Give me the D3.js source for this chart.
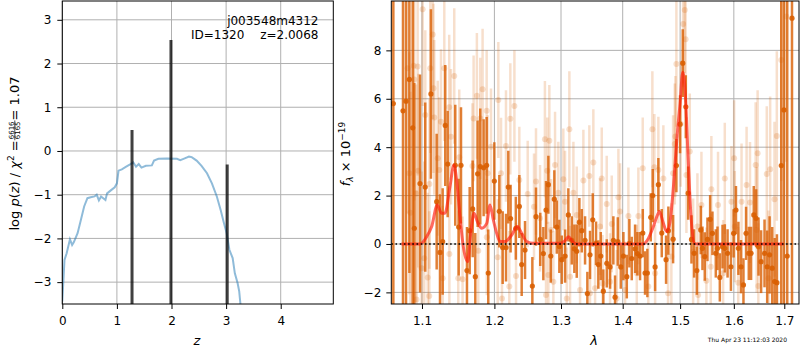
<!DOCTYPE html>
<html>
<head>
<meta charset="utf-8">
<script src="https://cdn.jsdelivr.net/npm/d3@7"></script>
<style>
  body { margin: 0; background: #fff; }
  text { font-family: "DejaVu Sans", sans-serif; }
</style>
</head>
<body>
<div id="chart"></div>
<script>

// ---- left panel: redshift probability ----
var zTicks = [0, 1, 2, 3, 4];
var logpTicks = [-3, -2, -1, 0, 1, 2, 3];

var zGrid = [0, 0.04, 0.08, 0.14, 0.18, 0.21, 0.28, 0.34, 0.40, 0.46, 0.52, 0.59, 0.63, 0.67, 0.71, 0.75,
  0.79, 0.82, 0.90, 0.96, 1.00, 1.03, 1.09, 1.17, 1.25, 1.30, 1.35, 1.40, 1.45, 1.53, 1.64, 1.68, 1.76,
  1.91, 2.10, 2.16, 2.22, 2.32, 2.37, 2.46, 2.55, 2.65, 2.74, 2.83, 2.90, 2.96, 3.01, 3.06, 3.12, 3.16,
  3.21, 3.24, 3.27];
var logPz = [-3.44, -2.49, -2.34, -2.02, -2.15, -2.09, -1.88, -1.58, -1.27, -1.08, -1.06, -1.04, -1.00,
  -1.13, -1.04, -1.08, -1.12, -0.97, -0.89, -0.83, -0.74, -0.45, -0.42, -0.36, -0.30, -0.26, -0.36, -0.30,
  -0.38, -0.34, -0.33, -0.22, -0.18, -0.17, -0.18, -0.21, -0.18, -0.13, -0.14, -0.22, -0.34, -0.51, -0.74,
  -1.04, -1.35, -1.65, -1.88, -2.26, -2.45, -2.80, -3.02, -3.21, -3.60];

var peakZ = [1.277, 1.99, 3.02];
var peakLogP = [0.48, 2.54, -0.31];

// ---- right panel: spectrum ----
var lamTicks = [1.1, 1.2, 1.3, 1.4, 1.5, 1.6, 1.7];
var fluxTicks = [-2, 0, 2, 4, 6, 8];

// [lambda, flux, error]  (darker orange spectrum)
var darkSpec = [
  [1.0628, 5.8, 10], [1.0752, 5.5, 9], [1.0791, 5.9, 9], [1.0835, 6.8, 8], [1.0878, 4.8, 8],
  [1.0899, 0.65, 6], [1.0974, 2.5, 4.5], [1.1043, 2.35, 3.5], [1.1119, 6.2, 3.5], [1.1196, 1.75, 2.8],
  [1.1241, -0.35, 2.4], [1.1277, 0.1, 2.2], [1.1312, 4.9, 2.5], [1.1345, 3.3, 2.2], [1.1449, 3.25, 2.5],
  [1.1496, 0.7, 2.0], [1.1528, 3.25, 2.4], [1.1611, -1.1, 1.8], [1.1649, 0.55, 1.8], [1.1691, 1.45, 2.0],
  [1.1728, -1.35, 1.8], [1.1761, 2.9, 2.2], [1.1798, 3.2, 2.4], [1.1846, 3.15, 2.0], [1.1889, 3.25, 2.0],
  [1.1912, -1.2, 1.8], [1.1999, 2.6, 1.6], [1.2071, 1.35, 1.5], [1.2120, -0.15, 1.5], [1.2169, -0.15, 1.4],
  [1.2202, 2.35, 1.5], [1.2236, 1.05, 1.4], [1.2313, 0.65, 1.3], [1.2365, 1.55, 1.3], [1.2400, -0.85, 1.3],
  [1.2450, -0.25, 1.2], [1.2560, -1.74, 1.2], [1.2615, 1.13, 1.2], [1.2680, 0.19, 1.1], [1.2727, -0.4, 1.1],
  [1.2768, 1.4, 1.2], [1.2804, 2.45, 1.2], [1.2841, -0.5, 1.1], [1.2896, 1.85, 1.2], [1.2934, 0.7, 1.1],
  [1.2974, -0.1, 1.1], [1.3012, -0.65, 1.0], [1.3064, -0.5, 1.1], [1.3115, 1.2, 1.1], [1.3169, 0.15, 1.0],
  [1.3210, -0.2, 1.0], [1.3248, -0.3, 1.1], [1.3290, 0.9, 1.0], [1.3328, 0.55, 0.9], [1.3381, 0.15, 1.0],
  [1.3418, -2.05, 0.9], [1.3461, -0.45, 1.0], [1.3505, 1.0, 1.1], [1.3559, 0.03, 0.9], [1.3596, -0.85, 1.0],
  [1.3636, -0.5, 1.0], [1.3678, -1.95, 0.9], [1.3735, -0.8, 1.0], [1.3789, -0.95, 0.9], [1.3844, 0.15, 1.0],
  [1.3872, -2.2, 0.9], [1.3918, 0.1, 1.0], [1.3968, -0.95, 0.9], [1.4012, -0.5, 1.0], [1.4069, -1.35, 0.9],
  [1.4113, 0.03, 1.0], [1.4153, -0.6, 0.9], [1.4210, -0.2, 1.0], [1.4249, -0.4, 0.9], [1.4295, -0.5, 1.0],
  [1.4342, 0.45, 1.0], [1.4381, -1.2, 0.9], [1.4421, -1.2, 1.0], [1.4480, 1.1, 1.0], [1.4515, 2.0, 1.1],
  [1.4556, -0.95, 1.0], [1.4613, 2.45, 1.1], [1.4673, 0.45, 1.0], [1.4749, -0.65, 1.0], [1.4790, 0.55, 1.0],
  [1.4874, 0.2, 1.0], [1.4933, 3.24, 1.1], [1.4999, 4.95, 1.2], [1.5048, 7.47, 1.4], [1.5103, 5.67, 1.3],
  [1.5146, 2.1, 1.1], [1.5206, 0.19, 1.0], [1.5255, -0.39, 1.0], [1.5304, -1.1, 1.0], [1.5377, 0.58, 1.0],
  [1.5408, -0.18, 0.9], [1.5451, -0.52, 1.0], [1.5501, 0.19, 0.9], [1.5551, 1.02, 1.0], [1.5594, 0.44, 0.9],
  [1.5657, -0.39, 1.0], [1.5689, -0.18, 0.9], [1.5733, -1.38, 1.0], [1.5784, -0.11, 0.9], [1.5828, -0.18, 1.0],
  [1.5880, -0.39, 1.0], [1.5944, -0.94, 1.0], [1.5996, 0.44, 1.0], [1.6041, 1.4, 1.0], [1.6088, -0.18, 1.1],
  [1.6139, -0.94, 1.1], [1.6186, -1.69, 1.1], [1.6237, 0.44, 1.1], [1.6290, -0.39, 1.1], [1.6335, -0.39, 1.1],
  [1.6388, 1.2, 1.2], [1.6434, 1.06, 1.2], [1.6482, -0.11, 1.2], [1.6533, -0.73, 1.3], [1.6601, -0.39, 1.4],
  [1.6654, -0.94, 1.5], [1.6702, -0.45, 1.6], [1.6755, -1.0, 1.7], [1.6804, -1.55, 1.8], [1.6850, -1.6, 2.0],
  [1.6938, 3.24, 10], [1.6993, 5.54, 10], [1.7060, -0.5, 12], [1.7158, 9.33, 12]
];

// [lambda, flux, error]  (faint spectrum)
var liteSpec = [
  [1.0812, 7.26, 6], [1.0834, 2.92, 5], [1.0849, 1.29, 5], [1.0891, 7.36, 5], [1.0899, 6.8, 5],
  [1.0921, 2.09, 4.5], [1.0928, -2.29, 4.5], [1.0943, 7.33, 4.5], [1.0951, 3.03, 4], [1.0996, -1.0, 4],
  [1.1009, 9.7, 4], [1.1030, -0.59, 4], [1.1044, 5.33, 3.5], [1.1076, -1.38, 3.5], [1.1097, -2.15, 3.5],
  [1.1099, 2.48, 3.5], [1.1110, 7.26, 3.5], [1.1143, 8.66, 3.5], [1.1153, 6.43, 3.5], [1.1164, 5.23, 3.2],
  [1.1210, 3.54, 3.2], [1.1231, 3.06, 3.0], [1.1254, 5.05, 3.0], [1.1277, -1.42, 3.0], [1.1299, 7.26, 3.0],
  [1.1366, 5.65, 3.0], [1.1368, -0.41, 2.8], [1.1390, 4.43, 2.8], [1.1435, 6.94, 2.8], [1.1490, -1.42, 2.8],
  [1.1504, 3.58, 2.8], [1.1550, -1.46, 2.6], [1.1688, 3.22, 2.6], [1.1704, 5.19, 2.6], [1.1750, 6.12, 2.6],
  [1.1770, -0.28, 2.5], [1.1798, 5.19, 2.5], [1.1831, 6.39, 2.5], [1.1889, 5.5, 2.5], [1.1891, 0.28, 2.4],
  [1.1903, 2.92, 2.4], [1.1951, 4.02, 2.4], [1.2048, -0.55, 2.4], [1.2057, 5.95, 2.4], [1.2096, 2.92, 2.3],
  [1.2110, -2.25, 2.3], [1.2168, 4.05, 2.3], [1.2217, -1.76, 2.3], [1.2232, 5.17, 2.3], [1.2292, 5.7, 2.3],
  [1.2316, -1.32, 2.2], [1.2365, 2.64, 2.2], [1.2490, 2.07, 2.2], [1.2585, 1.54, 2.2], [1.2615, 2.58, 2.2],
  [1.2676, 1.06, 2.2], [1.2751, 4.33, 2.4], [1.2768, -2.11, 2.2], [1.2787, 3.03, 2.2], [1.2804, -1.28, 2.2],
  [1.2819, 4.27, 2.3], [1.2846, 0.58, 2.1], [1.2881, -1.56, 2.1], [1.2907, 3.26, 2.2], [1.2958, 2.12, 2.1],
  [1.3036, 2.67, 2.1], [1.3063, 1.75, 2.1], [1.3090, -2.25, 2.1], [1.3131, 4.74, 2.4], [1.3142, -1.35, 2.1],
  [1.3195, 2.12, 2.1], [1.3248, 1.2, 2.0], [1.3301, -1.9, 2.0], [1.3354, 2.62, 2.1], [1.3450, 2.81, 2.1],
  [1.3461, -2.04, 2.0], [1.3515, 3.37, 2.2], [1.3543, -1.83, 2.0], [1.3624, 0.72, 2.0], [1.3652, 2.71, 2.1],
  [1.3665, -1.63, 2.0], [1.3734, 1.65, 2.0], [1.3789, -1.56, 2.0], [1.3817, 0.83, 2.0], [1.3900, -2.25, 2.0],
  [1.3928, 1.93, 2.0], [1.3956, 1.34, 2.0], [1.4040, -1.9, 2.0], [1.4096, 1.16, 2.0], [1.4239, -1.21, 2.0],
  [1.4266, 1.16, 2.0], [1.4341, 3.13, 2.1], [1.4438, -1.76, 2.0], [1.4508, 4.74, 2.4], [1.4543, 3.17, 2.2],
  [1.4556, -1.21, 2.0], [1.4613, 3.06, 2.2], [1.4701, 2.71, 2.2], [1.4784, -2.04, 2.2], [1.4843, -0.52, 2.2],
  [1.4874, 2.92, 2.4], [1.4904, 4.13, 2.5], [1.4915, 4.44, 2.5], [1.4933, 7.44, 2.6], [1.5011, 4.96, 2.6],
  [1.5054, 9.09, 2.6], [1.5084, 9.67, 2.6], [1.5099, 8.46, 2.6], [1.5114, 2.85, 2.4], [1.5175, 3.82, 2.4],
  [1.5236, -0.32, 2.2], [1.5315, 0.72, 2.2], [1.5328, -2.11, 2.2], [1.5389, 1.61, 2.2], [1.5481, -1.52, 2.2],
  [1.5563, -0.94, 2.2], [1.5574, 2.26, 2.2], [1.5699, 1.61, 2.2], [1.5795, -1.21, 2.2], [1.5827, 2.71, 2.3],
  [1.5954, 1.75, 2.3], [1.6006, 3.54, 2.4], [1.6019, 0.72, 2.3], [1.6085, -1.6, 2.3], [1.6149, 1.75, 2.4],
  [1.6247, 2.44, 2.4], [1.6314, 1.71, 2.5], [1.6425, 3.26, 2.6], [1.6445, 0.58, 2.6], [1.6464, 3.75, 2.6],
  [1.6478, -1.74, 2.6], [1.6646, 2.89, 2.8], [1.6680, -1.42, 2.8], [1.6714, 3.09, 3.0], [1.6801, 1.85, 3.2],
  [1.6848, 4.46, 3.5], [1.6938, 7.6, 5], [1.7041, 9.4, 6]
];

var modelLam = [1.0732, 1.0974, 1.1062, 1.1129, 1.1204, 1.1263, 1.1308, 1.1376, 1.1431, 1.1468, 1.1514,
  1.1560, 1.1621, 1.1663, 1.1710, 1.1757, 1.1819, 1.1890, 1.1937, 1.1985, 1.2033, 1.2081, 1.2154, 1.2252,
  1.2335, 1.2400, 1.2475, 1.2575, 1.2985, 1.3064, 1.3116, 1.3180, 1.3248, 1.4349, 1.4438, 1.4526, 1.4586,
  1.4632, 1.4693, 1.4763, 1.4820, 1.4880, 1.4940, 1.4999, 1.5048, 1.5090, 1.5139, 1.5194, 1.5260, 1.5304,
  1.6987];
var modelFlux = [0, 0, 0.3, 0.72, 1.61, 1.27, 1.27, 2.37, 3.26, 2.64, 1.13, -0.11, -0.73, 0.44, 1.27, 0.92,
  0.65, 0.85, 1.61, 0.99, 0.44, 0.1, 0.1, 0.37, 0.72, 0.44, 0.1, 0.03, 0.03, 0.14, 0.3, 0.1, 0, 0, 0.23,
  0.72, 1.13, 1.34, 0.92, 0.51, 0.92, 2.37, 4.3, 5.81, 7.1, 6.36, 3.88, 1.27, 0.03, 0, 0];

var objName = "j003548m4312";
var objInfo = "ID=1320\u2003 z=2.0068";
var stamp = "Thu Apr 23 11:12:03 2020";

// ---- layout ----
var svg = d3.select("#chart").append("svg")
    .attr("width", 800)
    .attr("height", 350);

var left = { x0: 62.3, x1: 333.3, y0: 1, y1: 304 };
var right = { x0: 391.3, x1: 799, y0: 1, y1: 304 };

var xz = d3.scaleLinear().domain([0, 4.963]).range([left.x0, left.x1]);
var yp = d3.scaleLinear().domain([-3.5, 3.43]).range([left.y1, left.y0]);
var xl = d3.scaleLog().domain([1.0602, 1.7303]).range([right.x0, right.x1]);
var yf = d3.scaleLinear().domain([-2.48, 10.04]).range([right.y1, right.y0]);

var gridColor = "#b0b0b0";
var orange = "#d95f02";

function drawFrame(box, xs, ys, xt, yt, xfmt, yfmt, yPad, id) {
    // grid
    svg.append("g").selectAll("line").data(xt).enter().append("line")
        .attr("x1", d => xs(d)).attr("x2", d => xs(d))
        .attr("y1", box.y0).attr("y2", box.y1)
        .attr("stroke", gridColor).attr("stroke-width", 1);
    svg.append("g").selectAll("line").data(yt).enter().append("line")
        .attr("y1", d => ys(d)).attr("y2", d => ys(d))
        .attr("x1", box.x0).attr("x2", box.x1)
        .attr("stroke", gridColor).attr("stroke-width", 1);

    svg.append("clipPath").attr("id", id)
        .append("rect")
        .attr("x", box.x0).attr("y", box.y0)
        .attr("width", box.x1 - box.x0).attr("height", box.y1 - box.y0);

    var xAxis = d3.axisBottom(xs).tickValues(xt).tickFormat(xfmt).tickSize(5).tickPadding(7);
    var yAxis = d3.axisLeft(ys).tickValues(yt).tickFormat(yfmt).tickSize(5).tickPadding(yPad);

    var gx = svg.append("g").attr("transform", "translate(0," + box.y1 + ")").call(xAxis);
    var gy = svg.append("g").attr("transform", "translate(" + box.x0 + ",0)").call(yAxis);
    [gx, gy].forEach(g => {
        g.select(".domain").remove();
        g.selectAll("text").attr("font-size", 12).attr("fill", "#000")
            .attr("font-family", "DejaVu Sans, sans-serif");
        g.selectAll("line").attr("stroke", "#000");
    });
}

function drawSpine(box) {
    svg.append("rect")
        .attr("x", box.x0).attr("y", box.y0)
        .attr("width", box.x1 - box.x0).attr("height", box.y1 - box.y0)
        .attr("fill", "none").attr("stroke", "#000").attr("stroke-width", 1);
}

// ---- left panel ----
drawFrame(left, xz, yp, zTicks, logpTicks, d3.format("d"), d3.format("d"), 6, "clipL");

var gl = svg.append("g").attr("clip-path", "url(#clipL)");

gl.append("path")
    .datum(zGrid.map((z, i) => [z, logPz[i]]))
    .attr("d", d3.line().x(d => xz(d[0])).y(d => yp(d[1])))
    .attr("fill", "none")
    .attr("stroke", "#1f77b4")
    .attr("stroke-opacity", 0.5)
    .attr("stroke-width", 2);

gl.selectAll(".peak").data(peakZ).enter().append("line")
    .attr("x1", d => xz(d)).attr("x2", d => xz(d))
    .attr("y1", (d, i) => yp(peakLogP[i]))
    .attr("y2", yp(-3.5))
    .attr("stroke", "#000").attr("stroke-opacity", 0.75)
    .attr("stroke-width", 3);

drawSpine(left);

svg.append("text").attr("x", 318.5).attr("y", 24.5).attr("text-anchor", "end")
    .attr("font-size", 12).text(objName);
svg.append("text").attr("x", 318.5).attr("y", 39).attr("text-anchor", "end")
    .attr("font-size", 12).text(objInfo);

svg.append("text").attr("x", 197).attr("y", 345).attr("text-anchor", "middle")
    .attr("font-size", 13).attr("font-style", "italic").text("z");

// y label: log p(z) / chi^2 = 6616/6165 = 1.07
var lab = svg.append("g").attr("transform", "translate(19,153.5) rotate(-90)");
var labIn = lab.append("g");
var t1 = labIn.append("text").attr("font-size", 13).attr("x", 0).attr("y", 0);
t1.append("tspan").text("log ");
t1.append("tspan").attr("font-style", "italic").text("p");
t1.append("tspan").text("(");
t1.append("tspan").attr("font-style", "italic").text("z");
t1.append("tspan").text(") / ");
t1.append("tspan").attr("font-style", "italic").text("\u03c7");
t1.append("tspan").attr("font-size", 9).attr("dy", -5).text("2");
t1.append("tspan").attr("dy", 5).text(" = ");
var w1 = t1.node().getComputedTextLength();

var num = labIn.append("text").attr("font-size", 7).attr("y", -5.2).attr("text-anchor", "middle").text("6616");
var den = labIn.append("text").attr("font-size", 7).attr("y", 1.2).attr("text-anchor", "middle").text("6165");
var fw = Math.max(num.node().getComputedTextLength(), den.node().getComputedTextLength()) + 2;
num.attr("x", w1 + fw / 2);
den.attr("x", w1 + fw / 2);
labIn.append("line").attr("x1", w1).attr("x2", w1 + fw)
    .attr("y1", -4.2).attr("y2", -4.2).attr("stroke", "#000").attr("stroke-width", 0.7);

var t2 = labIn.append("text").attr("font-size", 13).attr("x", w1 + fw).attr("y", 0).text(" = 1.07");
var total = w1 + fw + t2.node().getComputedTextLength();
labIn.attr("transform", "translate(" + (-total / 2) + ",0)");

// ---- right panel ----
drawFrame(right, xl, yf, lamTicks, fluxTicks, d3.format(".1f"), d3.format("d"), 5, "clipR");

var gr = svg.append("g").attr("clip-path", "url(#clipR)");

// faint spectrum
gr.append("g").selectAll("line").data(liteSpec).enter().append("line")
    .attr("x1", d => xl(d[0])).attr("x2", d => xl(d[0]))
    .attr("y1", d => yf(d[1] - d[2])).attr("y2", d => yf(d[1] + d[2]))
    .attr("stroke", orange).attr("stroke-opacity", 0.2).attr("stroke-width", 2.5);
gr.append("g").selectAll("circle").data(liteSpec).enter().append("circle")
    .attr("cx", d => xl(d[0])).attr("cy", d => yf(d[1])).attr("r", 3)
    .attr("fill", orange).attr("fill-opacity", 0.2);

// darker spectrum
gr.append("g").selectAll("line").data(darkSpec).enter().append("line")
    .attr("x1", d => xl(d[0])).attr("x2", d => xl(d[0]))
    .attr("y1", d => yf(d[1] - d[2])).attr("y2", d => yf(d[1] + d[2]))
    .attr("stroke", orange).attr("stroke-opacity", 0.8).attr("stroke-width", 2.5);
gr.append("g").selectAll("circle").data(darkSpec).enter().append("circle")
    .attr("cx", d => xl(d[0])).attr("cy", d => yf(d[1])).attr("r", 2.6)
    .attr("fill", orange).attr("fill-opacity", 0.9);

// model
gr.append("path")
    .datum(modelLam.map((l, i) => [l, modelFlux[i]]))
    .attr("d", d3.line().curve(d3.curveMonotoneX).x(d => xl(d[0])).y(d => yf(d[1])))
    .attr("fill", "none")
    .attr("stroke", "#ff1a0a")
    .attr("stroke-opacity", 0.65)
    .attr("stroke-width", 3);

// zero line
gr.append("line")
    .attr("x1", right.x0).attr("x2", right.x1)
    .attr("y1", yf(0)).attr("y2", yf(0))
    .attr("stroke", "#000").attr("stroke-width", 1.6)
    .attr("stroke-dasharray", "1.6,2.6");

drawSpine(right);

svg.append("text").attr("x", 594).attr("y", 345).attr("text-anchor", "middle")
    .attr("font-size", 13).attr("font-style", "italic").text("\u03bb");

// y label: f_lambda x 10^-19
var fl = svg.append("text").attr("transform", "translate(350,154) rotate(-90)")
    .attr("text-anchor", "middle").attr("font-size", 13);
fl.append("tspan").attr("font-style", "italic").text("f");
fl.append("tspan").attr("font-style", "italic").attr("font-size", 9).attr("dy", 3).text("\u03bb");
fl.append("tspan").attr("dy", -3).text(" \u00d7 10");
fl.append("tspan").attr("font-size", 9).attr("dy", -5.5).text("\u221219");

svg.append("text").attr("x", 787).attr("y", 342).attr("text-anchor", "end")
    .attr("font-size", 6).text(stamp);

</script>
</body>
</html>
